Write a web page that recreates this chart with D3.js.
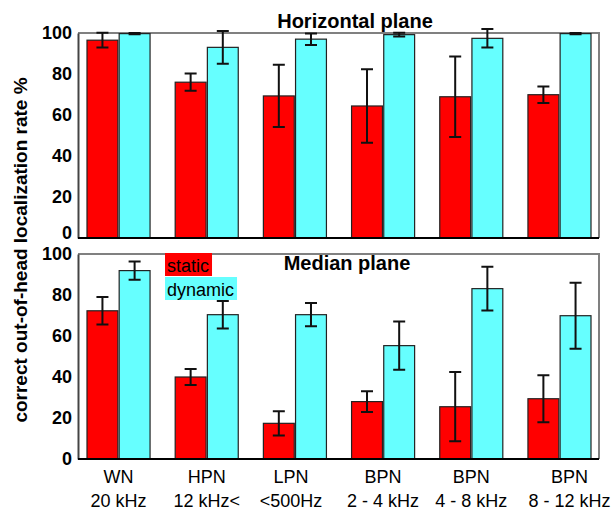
<!DOCTYPE html>
<html>
<head>
<meta charset="utf-8">
<script src="https://cdn.jsdelivr.net/npm/d3@7"></script>
<style>
body { margin: 0; background: #fff; }
text { font-family: "Liberation Sans", Arial, sans-serif; }
</style>
</head>
<body>
<svg id="chart" width="616" height="510"></svg>
<script>
var categories = ["WN", "HPN", "LPN", "BPN", "BPN", "BPN"];
var subLabels = ["20 kHz", "12 kHz<", "<500Hz", "2 - 4 kHz", "4 - 8 kHz", "8 - 12 kHz"];
var yTicks = [0, 20, 40, 60, 80, 100];
var seriesNames = ["static", "dynamic"];

// horizontal plane
var horizStatic = [96.5, 76, 69.3, 64.4, 68.9, 69.9];
var horizStaticErr = [3.6, 4.2, 15.2, 17.9, 19.6, 4];
var horizDynamic = [99.7, 93, 97, 99.2, 97.4, 99.7];
var horizDynamicErr = [0.3, 8, 2.8, 0.9, 4.5, 0.3];

// median plane
var medStatic = [72.3, 40, 17.4, 28, 25.5, 29.4];
var medStaticErr = [6.7, 3.9, 5.9, 5.1, 16.9, 11.5];
var medDynamic = [91.9, 70.4, 70.4, 55.3, 83.1, 69.9];
var medDynamicErr = [4.5, 6.7, 5.7, 11.8, 10.7, 16.1];

var COLORS = ["#ff0000", "#66ffff"];
var LEFT = 78, RIGHT = 599;
var FONT = "'Liberation Sans', Arial, sans-serif";

var svg = d3.select("#chart");

var x0 = d3.scaleBand()
	.domain(d3.range(categories.length))
	.range([87, 591])
	.paddingInner(0.285)
	.paddingOuter(0);

var x1 = d3.scaleBand()
	.domain([0, 1])
	.range([0, x0.bandwidth()])
	.paddingInner(0.04);

function drawPanel(top, bottom, title, titleX, titleY, values, errs, zeroShift)
{
	var y = d3.scaleLinear().domain([0, 100]).range([bottom, top]);
	var g = svg.append("g");

	// frame: gray top / right
	g.append("path")
		.attr("d", "M" + LEFT + "," + top + "H" + RIGHT + "V" + bottom)
		.attr("fill", "none")
		.attr("stroke", "#808080")
		.attr("stroke-width", 2);

	var groups = g.selectAll("g.cat")
		.data(d3.range(categories.length))
		.enter().append("g")
		.attr("class", "cat")
		.attr("transform", function(i) { return "translate(" + x0(i) + ",0)"; });

	function pairs(i) {
		return [0, 1].map(function(s) { return { s: s, v: values[s][i], e: errs[s][i] }; });
	}

	groups.selectAll("rect")
		.data(pairs)
		.enter().append("rect")
		.attr("x", function(d) { return x1(d.s); })
		.attr("width", x1.bandwidth())
		.attr("y", function(d) { return y(d.v); })
		.attr("height", function(d) { return y(0) - y(d.v); })
		.attr("fill", function(d) { return COLORS[d.s]; })
		.attr("stroke", "#222")
		.attr("stroke-width", 1.2);

	// error bars
	groups.selectAll("path.err")
		.data(pairs)
		.enter().append("path")
		.attr("class", "err")
		.attr("transform", function(d) { return "translate(" + (x1(d.s) + x1.bandwidth() / 2) + ",0)"; })
		.attr("d", function(d) {
			var hi = y(d.v + d.e), lo = y(d.v - d.e);
			return "M0," + hi + "V" + lo + "M-6," + hi + "H6M-6," + lo + "H6";
		})
		.attr("stroke", "#111")
		.attr("stroke-width", 2)
		.attr("fill", "none");

	// axes
	var yAxis = d3.axisLeft(y).tickValues(yTicks).tickSize(0).tickPadding(6);
	var ya = g.append("g")
		.attr("transform", "translate(" + LEFT + ",0)")
		.call(yAxis);
	ya.select(".domain").attr("stroke", "#444").attr("stroke-width", 2);
	ya.selectAll("text")
		.style("font-family", FONT)
		.style("font-size", "18px")
		.style("font-weight", "bold")
		.attr("fill", "#000");
	ya.selectAll(".tick").filter(function(d) { return d === 0; })
		.select("text").attr("y", -zeroShift);

	g.append("line")
		.attr("x1", LEFT).attr("x2", RIGHT)
		.attr("y1", bottom).attr("y2", bottom)
		.attr("stroke", "#000")
		.attr("stroke-width", 2);

	g.append("text")
		.attr("x", titleX)
		.attr("y", titleY)
		.attr("text-anchor", "middle")
		.style("font-size", "20px")
		.style("font-weight", "bold")
		.text(title);
}

drawPanel(33, 238, "Horizontal plane", 355, 28, [horizStatic, horizDynamic], [horizStaticErr, horizDynamicErr], 5);
drawPanel(254, 459, "Median plane", 347, 270, [medStatic, medDynamic], [medStaticErr, medDynamicErr], 0);

// x labels
var labelShift = [0, 0, -4, 0, 0, 10];
function labelX(i) { return x0(i) + x0.bandwidth() / 2 + labelShift[i]; }
var xl = svg.append("g").selectAll("text")
	.data(d3.range(categories.length))
	.enter().append("text")
	.attr("text-anchor", "middle")
	.style("font-size", "18px");
xl.append("tspan").attr("x", labelX).attr("y", 483).text(function(i) { return categories[i]; });
xl.append("tspan").attr("x", labelX).attr("y", 507).text(function(i) { return subLabels[i]; });

// legend
var legendRows = svg.append("g").selectAll("g")
	.data(seriesNames)
	.enter().append("g")
	.attr("transform", function(d, i) { return "translate(165," + (253 + i * 24) + ")"; });
legendRows.append("text")
	.attr("x", 2)
	.attr("y", 19)
	.style("font-size", "18px")
	.text(function(d) { return d; })
	.each(function(d, i) {
		var w = this.getComputedTextLength();
		d3.select(this.parentNode).insert("rect", "text")
			.attr("x", 0).attr("y", 0)
			.attr("width", w + 5).attr("height", 23)
			.attr("fill", COLORS[i]);
	});

// y label
svg.append("text")
	.attr("transform", "translate(27,250) rotate(-90)")
	.attr("text-anchor", "middle")
	.style("font-size", "19px")
	.style("font-weight", "bold")
	.text("correct out-of-head localization rate %");
</script>
</body>
</html>
